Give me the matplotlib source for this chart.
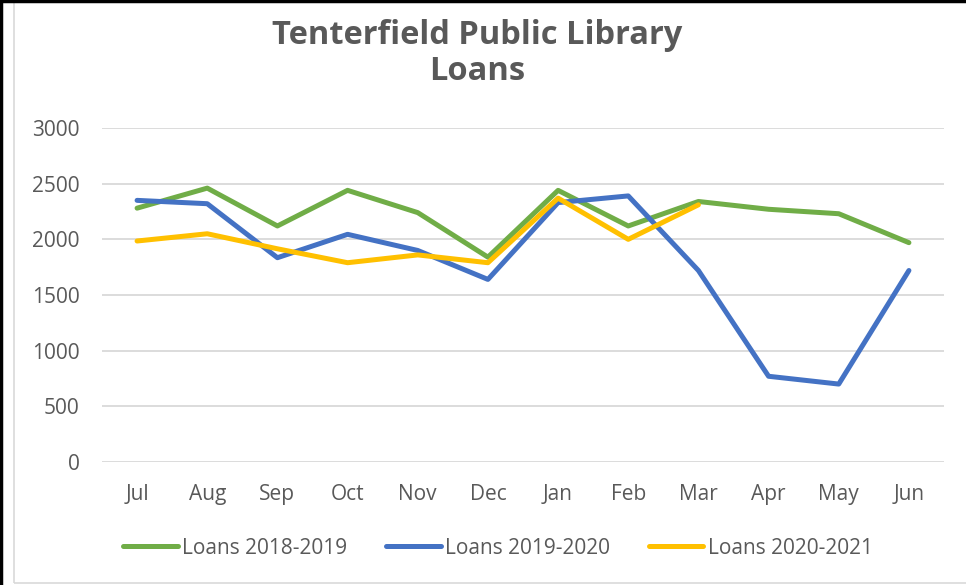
import matplotlib
matplotlib.use("Agg")
import matplotlib.pyplot as plt
from matplotlib.patches import Rectangle
from matplotlib.lines import Line2D

months = ["Jul", "Aug", "Sep", "Oct", "Nov", "Dec", "Jan", "Feb", "Mar", "Apr", "May", "Jun"]
loans_2018_2019 = [2280, 2460, 2120, 2440, 2240, 1840, 2440, 2120, 2340, 2270, 2230, 1970]
loans_2019_2020 = [2350, 2320, 1835, 2045, 1900, 1640, 2330, 2390, 1720, 770, 700, 1720]
loans_2020_2021 = [1985, 2050, 1915, 1790, 1860, 1790, 2370, 2000, 2310]
y_ticks = [0, 500, 1000, 1500, 2000, 2500, 3000]

plt.rcParams['font.family'] = ['Open Sans', 'DejaVu Sans']
txt = '#595959'

fig = plt.figure(figsize=(9.66, 5.85), dpi=100)
ax = fig.add_axes([102 / 966, 1 - 462 / 585, 842 / 966, 334 / 585])

# outer frame of the screenshot / chart area
fig.patches.append(Rectangle((14 / 966, 2 / 585), 1.2, 581 / 585, transform=fig.transFigure,
                             fill=False, edgecolor='#d9d9d9', linewidth=1.2))
fig.add_artist(Line2D([0.0015, 0.0015], [0, 1], color='black', linewidth=2.5, transform=fig.transFigure))
fig.add_artist(Line2D([0, 1], [0.998, 0.998], color='black', linewidth=2.5, transform=fig.transFigure))

x = list(range(len(months)))
ax.plot(x, loans_2018_2019, color='#70AD47', linewidth=3.6, label='Loans 2018-2019', solid_capstyle='round')
ax.plot(x, loans_2019_2020, color='#4472C4', linewidth=3.6, label='Loans 2019-2020', solid_capstyle='round')
ax.plot(x[:len(loans_2020_2021)], loans_2020_2021, color='#FFC000', linewidth=3.6,
        label='Loans 2020-2021', solid_capstyle='round')

ax.set_xlim(-0.5, len(months) - 0.5)
ax.set_ylim(0, 3000)
ax.set_yticks(y_ticks)
ax.set_xticks(x)
ax.set_xticklabels(months)
ax.grid(axis='y', color='#d9d9d9', linewidth=1.3)
ax.set_axisbelow(True)
for s in ax.spines.values():
    s.set_visible(False)
ax.tick_params(axis='both', length=0, labelsize=15, labelcolor=txt)
ax.tick_params(axis='y', pad=16)
ax.tick_params(axis='x', pad=16)

fig.text(477 / 966, 1 - 35 / 585, 'Tenterfield Public Library', ha='center', va='center',
         fontsize=23.5, fontweight='bold', color=txt)
fig.text(477 / 966, 1 - 71 / 585, 'Loans', ha='center', va='center',
         fontsize=23.5, fontweight='bold', color=txt)

leg = fig.legend(loc='center', bbox_to_anchor=(498 / 966, 1 - 548 / 585), ncol=3, frameon=False,
                 fontsize=15, handlelength=2.6, handletextpad=0.2, columnspacing=1.9)
for t in leg.get_texts():
    t.set_color(txt)

fig.savefig('out.png', dpi=100)
